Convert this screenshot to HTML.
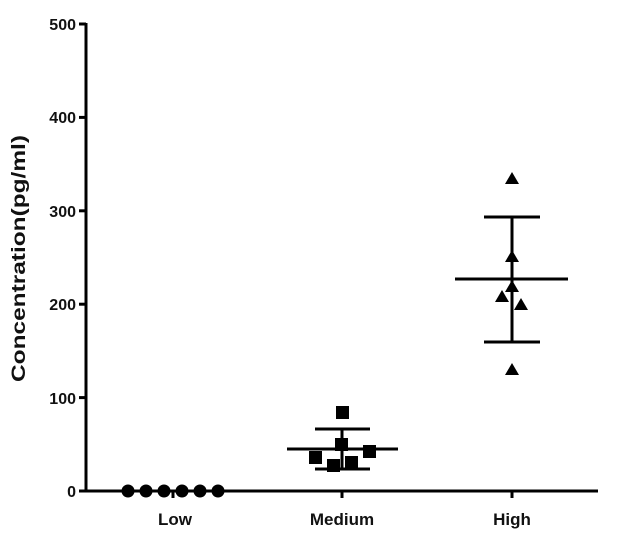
<!DOCTYPE html>
<html><head><style>body{margin:0;background:#fff}svg{display:block}</style></head>
<body>
<svg width="623" height="547" viewBox="0 0 623 547" xmlns="http://www.w3.org/2000/svg" font-family="Liberation Sans, Arial, sans-serif" font-weight="bold">
<g stroke="#000" stroke-width="3" fill="none">
<line x1="86" y1="23" x2="86" y2="492"/>
<line x1="85" y1="491" x2="598" y2="491"/>
<line x1="79" y1="24" x2="86" y2="24"/>
<line x1="79" y1="117.4" x2="86" y2="117.4"/>
<line x1="79" y1="210.8" x2="86" y2="210.8"/>
<line x1="79" y1="304.2" x2="86" y2="304.2"/>
<line x1="79" y1="397.6" x2="86" y2="397.6"/>
<line x1="79" y1="491" x2="86" y2="491"/>
<line x1="173" y1="491" x2="173" y2="498"/>
<line x1="342" y1="491" x2="342" y2="498"/>
<line x1="512" y1="491" x2="512" y2="498"/>
<line x1="287" y1="449" x2="398" y2="449"/>
<line x1="315" y1="429" x2="370" y2="429"/>
<line x1="315" y1="469" x2="370" y2="469"/>
<line x1="342" y1="429" x2="342" y2="469"/>
<line x1="455" y1="279" x2="568" y2="279"/>
<line x1="484" y1="217" x2="540" y2="217"/>
<line x1="484" y1="342" x2="540" y2="342"/>
<line x1="512" y1="217" x2="512" y2="342"/>
</g>
<g fill="#000">
<circle cx="128" cy="491" r="6.5"/><circle cx="146" cy="491" r="6.5"/><circle cx="164" cy="491" r="6.5"/>
<circle cx="182" cy="491" r="6.5"/><circle cx="200" cy="491" r="6.5"/><circle cx="218" cy="491" r="6.5"/>
<rect x="336" y="406" width="13" height="13"/>
<rect x="335" y="438" width="13" height="13"/>
<rect x="309" y="451" width="13" height="13"/>
<rect x="363" y="445" width="13" height="13"/>
<rect x="327" y="459" width="13" height="13"/>
<rect x="345" y="456" width="13" height="13"/>
<polygon points="512,172 519,184 505,184"/>
<polygon points="512,250 519,262 505,262"/>
<polygon points="512,280 519,292 505,292"/>
<polygon points="502,290 509,302 495,302"/>
<polygon points="521,298 528,310 514,310"/>
<polygon points="512,363 519,375 505,375"/>
</g>
<g font-size="16" text-anchor="end" fill="#111">
<text x="76" y="30">500</text>
<text x="76" y="123">400</text>
<text x="76" y="217">300</text>
<text x="76" y="310">200</text>
<text x="76" y="404">100</text>
<text x="76" y="497">0</text>
</g>
<g font-size="17" text-anchor="middle" fill="#111">
<text x="175" y="525">Low</text>
<text x="342" y="525">Medium</text>
<text x="512" y="525">High</text>
</g>
<text transform="translate(25,382) rotate(-90)" font-size="19" fill="#111" textLength="247" lengthAdjust="spacingAndGlyphs">Concentration(pg/ml)</text>
</svg>
</body></html>
